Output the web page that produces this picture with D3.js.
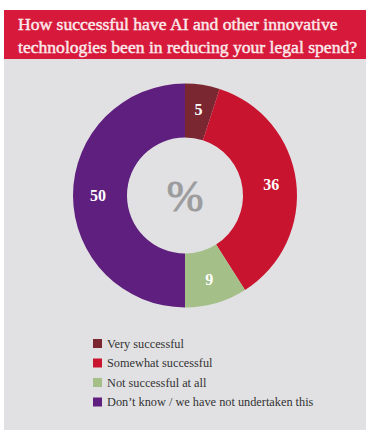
<html>
<head>
  <script src="https://d3js.org/d3.v7.min.js"></script>
  <style>
    body { margin: 0; background: white; }
    .title { font-family: "Liberation Serif", serif; font-size: 17.6px; fill: #fbeaec; stroke: #fbeaec; stroke-width: 0.45px; }
    .legend text { font-family: "Liberation Serif", serif; font-size: 12.3px; fill: #333; }
    .val { font-family: "Liberation Serif", serif; font-size: 16px; font-weight: bold; fill: white; }
  </style>
</head>
<body>
  <svg id="chart" width="372" height="439"></svg>
  <script>
    const categories = ["Very successful", "Somewhat successful", "Not successful at all", "Don\u2019t know / we have not undertaken this"];
    const values = [5, 36, 9, 50];
    const colors = ["#7b2731", "#c9142f", "#a4bf88", "#5f1f7e"];
    const titleLines = ["How successful have AI and other innovative", "technologies been in reducing your legal spend?"];

    const svg = d3.select("svg#chart");

    svg.append("rect").attr("x", 4).attr("y", 59).attr("width", 362).attr("height", 371).attr("fill", "#e1e1e3");
    svg.append("rect").attr("x", 4).attr("y", 10).attr("width", 362).attr("height", 49).attr("fill", "#d71a3b");

    svg.selectAll("text.title").data(titleLines).join("text")
      .attr("class", "title")
      .attr("x", 18)
      .attr("y", (d, i) => 29.5 + i * 23)
      .text(d => d);

    const cx = 185, cy = 195.5;
    const outerR = 112, innerR = 58;
    const pie = d3.pie().sort(null).value(d => d)(values);
    const arc = d3.arc().innerRadius(innerR).outerRadius(outerR);
    const labelArc = d3.arc().innerRadius((innerR + outerR) / 2 + 2).outerRadius((innerR + outerR) / 2 + 2);

    const g = svg.append("g").attr("transform", `translate(${cx},${cy})`);
    g.selectAll("path").data(pie).join("path")
      .attr("d", arc)
      .attr("fill", (d, i) => colors[i]);

    g.selectAll("text.val").data(pie).join("text")
      .attr("class", "val")
      .attr("text-anchor", "middle")
      .attr("dy", "0.35em")
      .attr("transform", d => `translate(${labelArc.centroid(d)})`)
      .text(d => d.data);

    g.append("text")
      .attr("text-anchor", "middle")
      .attr("dy", "0.35em")
      .style("font-family", "Liberation Serif, serif")
      .style("font-size", "44px")
      .style("fill", "#9c9c9e")
      .style("stroke", "#9c9c9e")
      .style("stroke-width", "1px")
      .text("%");

    const legend = svg.append("g").attr("class", "legend").attr("transform", "translate(93,338)");
    const rows = legend.selectAll("g").data(categories).join("g")
      .attr("transform", (d, i) => `translate(0,${i * 19.5})`);
    rows.append("rect").attr("width", 9).attr("height", 9).attr("y", 1)
      .attr("fill", (d, i) => colors[i]);
    rows.append("text").attr("x", 14).attr("y", 9.5).text(d => d);
  </script>
</body>
</html>
